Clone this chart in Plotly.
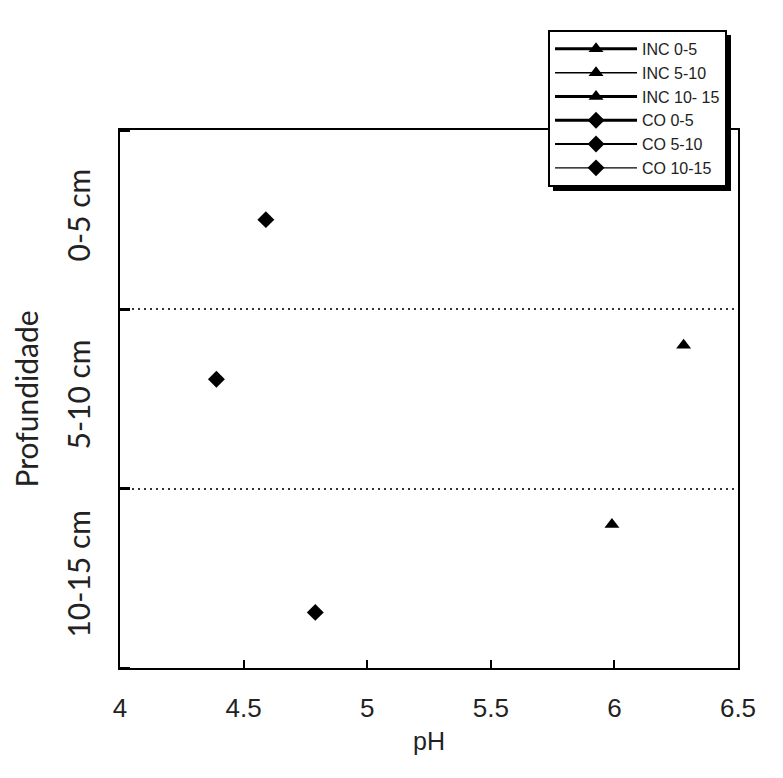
import plotly.graph_objects as go

# Data
series_names = ["INC 0-5", "INC 5-10", "INC 10- 15", "CO 0-5", "CO 5-10", "CO 10-15"]
series_ph = [[None], [6.28], [5.99], [4.59], [4.39], [4.79]]
series_depth = [[None], [1.8], [0.8], [2.5], [1.61], [0.31]]
series_symbol = ["triangle-up", "triangle-up", "triangle-up", "diamond", "diamond", "diamond"]
series_linewidth = [3, 1.5, 3, 3, 2, 1.2]

depth_ticks = [0.5, 1.5, 2.5]
depth_labels = ["10-15 cm", "5-10 cm", "0-5 cm"]
ph_ticks = [4, 4.5, 5, 5.5, 6, 6.5]
ph_labels = ["4", "4.5", "5", "5.5", "6", "6.5"]

ARIAL = "Liberation Sans, Arial, sans-serif"
CALIBRI = "Lato, Carlito, Calibri, sans-serif"

fig = go.Figure()
for name, xs, ys, sym, lw in zip(series_names, series_ph, series_depth, series_symbol, series_linewidth):
    fig.add_trace(go.Scatter(
        x=xs, y=ys, name=name, mode="lines+markers",
        line=dict(color="black", width=lw),
        marker=dict(symbol=sym, size=13, color="black"),
        showlegend=True,
    ))

fig.update_layout(
    width=783, height=778,
    margin=dict(l=112, r=53, t=122, b=118, autoexpand=False),
    paper_bgcolor="white", plot_bgcolor="white",
    font=dict(family=ARIAL, color="#222", size=20),
    showlegend=True,
    legend=dict(
        x=0.6926, y=1.186, xanchor="left", yanchor="top",
        bgcolor="white", bordercolor="black", borderwidth=2,
        font=dict(family=ARIAL, size=16, color="#222"),
        tracegroupgap=0, itemwidth=82,
    ),
    xaxis=dict(
        range=[4, 6.5], tickvals=ph_ticks, ticktext=ph_labels,
        showline=True, linecolor="black", linewidth=2, mirror=True,
        ticks="inside", ticklen=8, tickwidth=2, tickcolor="black",
        showgrid=False, zeroline=False, automargin=False,
        ticklabelstandoff=16,
        title=dict(text="pH", font=dict(family=ARIAL, size=25), standoff=10),
        tickfont=dict(family=ARIAL, size=26, color="#222"),
    ),
    yaxis=dict(
        range=[0, 3], tickvals=depth_ticks, ticktext=depth_labels,
        tickangle=-90,
        showline=True, linecolor="black", linewidth=2, mirror=True,
        ticks="", showgrid=False, zeroline=False, automargin=False,
        ticklabelstandoff=16,
        title=dict(text="Profundidade", font=dict(family=CALIBRI, size=30), standoff=22),
        tickfont=dict(family=CALIBRI, size=30, color="#222"),
        minor=dict(tick0=0, dtick=1, ticks="inside", ticklen=10, tickwidth=3,
                   tickcolor="black", showgrid=True, gridcolor="#333",
                   griddash="2px,4px", gridwidth=2),
    ),
)

# legend shadow (offset dark rectangle behind the legend box)
fig.add_shape(type="rect", xref="paper", yref="paper",
              x0=(553 - 120) / 618, x1=(731 - 120) / 618,
              y0=(668 - 191) / 538, y1=(668 - 35) / 538,
              fillcolor="black", line=dict(width=0), layer="above")

fig.write_html("out.html")
